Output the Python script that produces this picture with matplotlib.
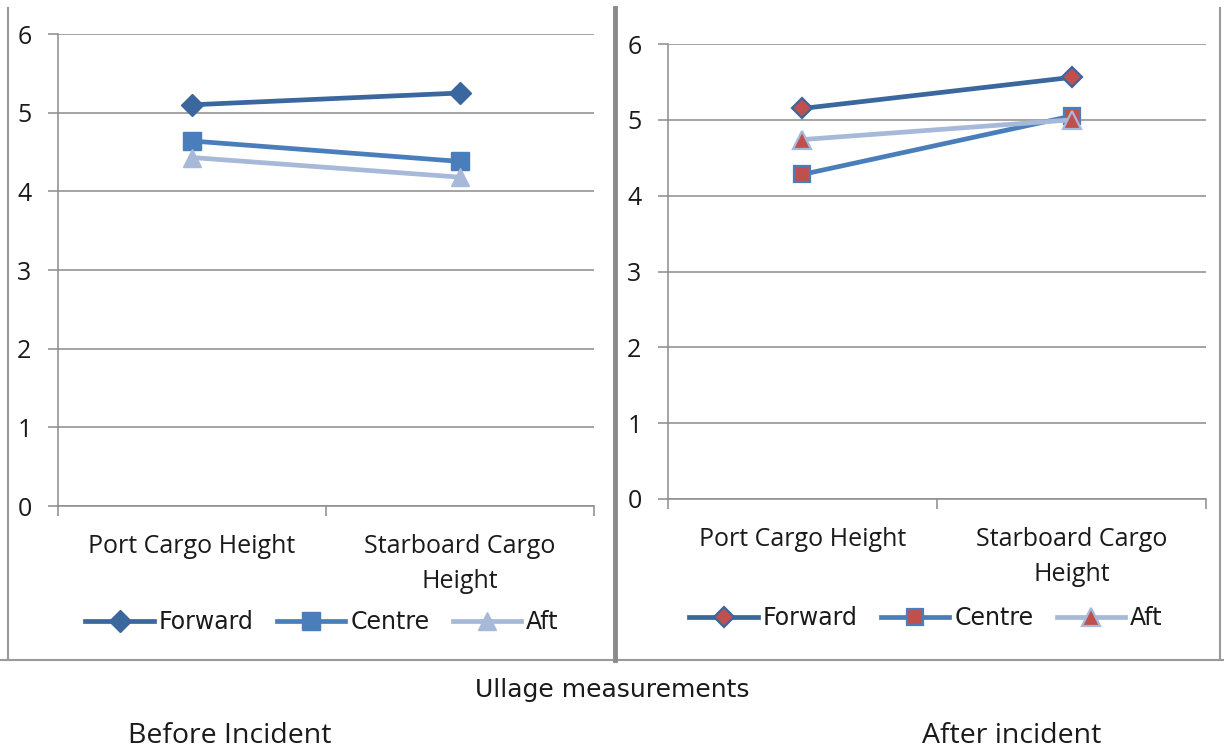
import matplotlib.pyplot as plt
from matplotlib.lines import Line2D

plt.rcParams['font.family'] = ['Open Sans', 'DejaVu Sans']

categories = ["Port Cargo Height", "Starboard Cargo\nHeight"]
series_names = ["Forward", "Centre", "Aft"]

before_forward = [5.10, 5.25]
before_centre = [4.64, 4.38]
before_aft = [4.43, 4.18]

after_forward = [5.15, 5.56]
after_centre = [4.28, 5.05]
after_aft = [4.74, 5.00]

line_colors = ["#3A679D", "#4A7EBB", "#A7B9D9"]
markers = ["D", "s", "^"]
marker_sizes = [11, 13, 13]
red = "#C0504D"
grid_c = "#8C8C8C"
txt_c = "#1a1a1a"

fig = plt.figure(figsize=(12.24, 7.53), dpi=100)
W, H = 1224, 753


def make_axes(rect, data, red_markers):
    x0, y_bot, x1, y_top = rect
    ax = fig.add_axes([x0 / W, 1 - y_bot / H, (x1 - x0) / W, (y_bot - y_top) / H])
    xs = list(range(len(categories)))
    handles = []
    for vals, name, c, m, ms in zip(data, series_names, line_colors, markers, marker_sizes):
        if red_markers:
            h, = ax.plot(xs, vals, color=c, lw=3.4, marker=m, ms=ms - 1 if m != "^" else ms,
                         markerfacecolor=red, markeredgecolor=c,
                         markeredgewidth=1.6, label=name, zorder=3)
        else:
            h, = ax.plot(xs, vals, color=c, lw=3.4, marker=m, ms=ms,
                         markerfacecolor=c, markeredgecolor=c, label=name, zorder=3)
        handles.append(h)
    ax.set_xlim(-0.5, len(categories) - 0.5)
    ax.set_ylim(0, 6)
    ax.set_yticks(range(0, 7))
    ax.yaxis.grid(True, color=grid_c, lw=1.1)
    ax.set_axisbelow(True)
    for s in ["top", "right"]:
        ax.spines[s].set_visible(False)
    for s in ["left", "bottom"]:
        ax.spines[s].set_color(grid_c)
        ax.spines[s].set_linewidth(1.1)
    ax.set_xticks(xs)
    ax.set_xticklabels(categories, fontsize=18, color=txt_c, linespacing=1.55)
    ax.set_xticks([-0.5, 0.5, 1.5], minor=True)
    ax.tick_params(axis="x", which="major", length=0, pad=20)
    ax.tick_params(axis="x", which="minor", length=7, width=1.1, color=grid_c, direction="out")
    ax.tick_params(axis="y", length=7, width=1.1, color=grid_c, pad=12, labelsize=18,
                   labelcolor=txt_c)
    return ax, handles


ax1, h1 = make_axes((58, 506, 594, 34), [before_forward, before_centre, before_aft], False)
ax2, h2 = make_axes((668, 499, 1206, 44), [after_forward, after_centre, after_aft], True)

for ax, hs, cx, cy in [(ax1, h1, 322, 622), (ax2, h2, 926, 618)]:
    ax.legend(hs, series_names, loc="center", bbox_to_anchor=(cx / W, 1 - cy / H),
              bbox_transform=fig.transFigure, ncol=3, frameon=False,
              prop={"family": "DejaVu Sans", "size": 17}, labelcolor=txt_c,
              handlelength=2.9, handletextpad=0.2, columnspacing=1.0, borderpad=0)

# panel frames
frame_c = "#9A9A9A"
fig.add_artist(Line2D([8 / W, 8 / W], [1 - 8 / H, 1 - 660 / H], color=frame_c, lw=1.5))
fig.add_artist(Line2D([0, 1], [1 - 660 / H, 1 - 660 / H], color=frame_c, lw=1.5))
fig.add_artist(Line2D([615 / W, 615 / W], [1 - 8 / H, 1 - 660 / H], color="#8A8A8A", lw=3.5))
fig.add_artist(Line2D([1220 / W, 1220 / W], [1 - 8 / H, 1 - 660 / H], color=frame_c, lw=1.5))

fig.text(612 / W, 1 - 690 / H, "Ullage measurements", ha="center", va="center",
         fontsize=18, family="DejaVu Sans", color=txt_c)
fig.text(230 / W, 1 - 736 / H, "Before Incident", ha="center", va="center",
         fontsize=20.5, color=txt_c)
fig.text(1012 / W, 1 - 736 / H, "After incident", ha="center", va="center",
         fontsize=20.5, color=txt_c)

fig.savefig("out.png", dpi=100)
